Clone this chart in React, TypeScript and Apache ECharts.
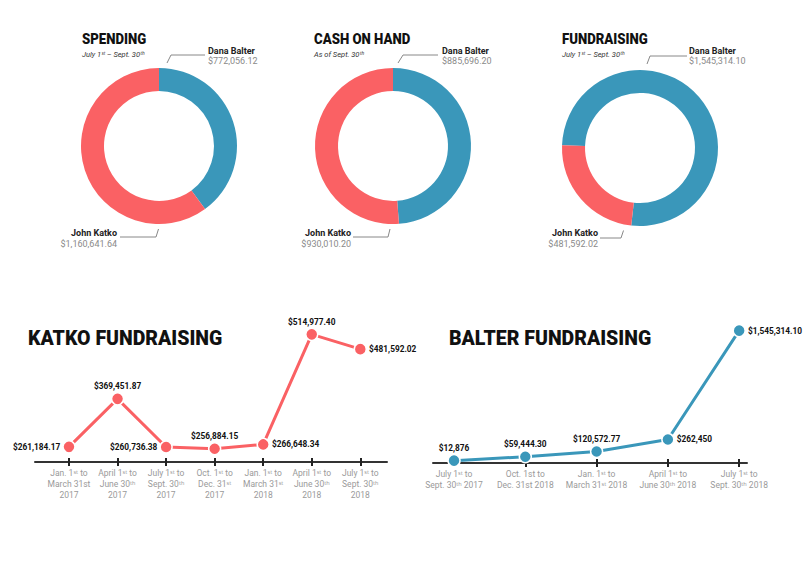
import React, { useEffect, useRef } from "react";
import * as echarts from "echarts";

// ---------- data ----------
const pieTitles = ["SPENDING", "CASH ON HAND", "FUNDRAISING"];
const pieSubtitles = ["July 1ˢᵗ – Sept. 30ᵗʰ", "As of Sept. 30ᵗʰ", "July 1ˢᵗ – Sept. 30ᵗʰ"];
const candidates = ["Dana Balter", "John Katko"];
const balterTotals = [772056.12, 885696.2, 1545314.1];
const katkoTotals = [1160641.64, 930010.2, 481592.02];

const katkoPeriods = [
  "Jan. 1ˢᵗ to\nMarch 31st\n2017",
  "April 1ˢᵗ to\nJune 30ᵗʰ\n2017",
  "July 1ˢᵗ to\nSept. 30ᵗʰ\n2017",
  "Oct. 1ˢᵗ to\nDec. 31ˢᵗ\n2017",
  "Jan. 1ˢᵗ to\nMarch 31ˢᵗ\n2018",
  "April 1ˢᵗ to\nJune 30ᵗʰ\n2018",
  "July 1ˢᵗ to\nSept. 30ᵗʰ\n2018",
];
const katkoValues = [261184.17, 369451.87, 260736.38, 256884.15, 266648.34, 514977.4, 481592.02];

const balterPeriods = [
  "July 1ˢᵗ to\nSept. 30ᵗʰ 2017",
  "Oct. 1st to\nDec. 31st 2018",
  "Jan. 1ˢᵗ to\nMarch 31ˢᵗ 2018",
  "April 1ˢᵗ to\nJune 30ᵗʰ 2018",
  "July 1ˢᵗ to\nSept. 30ᵗʰ 2018",
];
const balterValues = [12876, 59444.3, 120572.77, 262450, 1545314.1];

// ---------- style ----------
const RED = "#fa6164";
const BLUE = "#3a97ba";
const FONT = "Roboto, 'Noto Sans', sans-serif";

const money = (v: number) =>
  "$" +
  (Number.isInteger(v)
    ? v.toLocaleString("en-US")
    : v.toLocaleString("en-US", { minimumFractionDigits: 2, maximumFractionDigits: 2 }));

const pieLayout = [
  {
    cx: 159, cy: 146, tx: 82, start: 90,
    b: { x: 208, line: [[167, 63], [171, 55], [205, 55]] },
    k: { x: 117, line: [[120, 237], [156, 237], [158.5, 229]] },
  },
  {
    cx: 393, cy: 146, tx: 314, start: 90,
    b: { x: 442, line: [[398, 63], [403, 55], [438, 55]] },
    k: { x: 351, line: [[353, 237], [388, 237], [390, 229]] },
  },
  {
    cx: 640, cy: 148, tx: 562, start: 178,
    b: { x: 689, line: [[647, 64], [650, 56], [687, 56]] },
    k: { x: 598, line: [[600, 238], [621, 238], [623.5, 230.5]] },
  },
];

const katkoPos = ["left", "top", "left", "top", "right", "top", "right"];
const balterPos = ["top", "top", "top", "right", "right"];

export default function App() {
  const ref = useRef<HTMLDivElement>(null);

  useEffect(() => {
    document.body.style.margin = "0";
    if (!ref.current) return;
    const chart = echarts.init(ref.current, undefined, { renderer: "svg" });

    const graphics: any[] = [];
    pieLayout.forEach((p, i) => {
      graphics.push({
        type: "text", x: p.tx, y: 39, scaleX: 0.88,
        style: { text: pieTitles[i], font: `900 15px ${FONT}`, fill: "#111", verticalAlign: "middle", align: "left" },
      });
      graphics.push({
        type: "text", x: p.tx, y: 54.5,
        style: { text: pieSubtitles[i], font: `italic 7.5px ${FONT}`, fill: "#333", verticalAlign: "middle", align: "left" },
      });
      // Balter annotation
      graphics.push({
        type: "polyline",
        shape: { points: p.b.line },
        style: { stroke: "#888", lineWidth: 1, fill: null },
      });
      graphics.push({
        type: "text", x: p.b.x, y: 50.5,
        style: { text: candidates[0], font: `bold 9px ${FONT}`, fill: "#222", verticalAlign: "middle", align: "left" },
      });
      graphics.push({
        type: "text", x: p.b.x, y: 61,
        style: { text: money(balterTotals[i]), font: `9px ${FONT}`, fill: "#8a8a8a", verticalAlign: "middle", align: "left" },
      });
      // Katko annotation
      graphics.push({
        type: "polyline",
        shape: { points: p.k.line },
        style: { stroke: "#888", lineWidth: 1, fill: null },
      });
      graphics.push({
        type: "text", x: p.k.x, y: 233,
        style: { text: candidates[1], font: `bold 9px ${FONT}`, fill: "#222", verticalAlign: "middle", align: "right" },
      });
      graphics.push({
        type: "text", x: p.k.x, y: 243.5,
        style: { text: money(katkoTotals[i]), font: `9px ${FONT}`, fill: "#8a8a8a", verticalAlign: "middle", align: "right" },
      });
    });
    graphics.push({
      type: "text", x: 28, y: 338.5,
      style: { text: "KATKO FUNDRAISING", font: `900 19.5px ${FONT}`, fill: "#111", verticalAlign: "middle", align: "left" },
    });
    graphics.push({
      type: "text", x: 449, y: 338.5,
      style: { text: "BALTER FUNDRAISING", font: `900 19.5px ${FONT}`, fill: "#111", verticalAlign: "middle", align: "left" },
    });

    const pieSeries = pieLayout.map((p, i) => ({
      type: "pie",
      center: [p.cx, p.cy],
      radius: [55, 78],
      startAngle: p.start,
      clockwise: true,
      silent: true,
      label: { show: false },
      labelLine: { show: false },
      itemStyle: { borderWidth: 0 },
      data: [
        { name: candidates[0], value: balterTotals[i], itemStyle: { color: BLUE } },
        { name: candidates[1], value: katkoTotals[i], itemStyle: { color: RED } },
      ],
    }));

    const xAxisBase = (grid: number, min: number, max: number, labels: string[]) => {
      const ticks = labels.map((_, i) => i);
      return [
        {
          type: "value", gridIndex: grid, min, max, position: "bottom",
          axisLine: { show: true, onZero: false, lineStyle: { color: "#333", width: 2 } },
          axisTick: { show: true, customValues: ticks, length: 4, lineStyle: { color: "#222", width: 2 } },
          axisLabel: {
            show: true, customValues: ticks, margin: 6,
            formatter: (v: number) => labels[Math.round(v)],
            color: "#9a9a9a", fontSize: 8.5, lineHeight: 10.8, fontFamily: FONT, align: "center",
          },
          splitLine: { show: false },
        },
        {
          type: "value", gridIndex: grid, min, max, position: "bottom",
          axisLine: { show: false, onZero: false },
          axisTick: { show: true, inside: true, customValues: ticks, length: 4, lineStyle: { color: "#222", width: 2 } },
          axisLabel: { show: false },
          splitLine: { show: false },
        },
      ];
    };

    const lineSeries = (
      values: number[], pos: string[], color: string, xi: number, yi: number
    ) => ({
      type: "line",
      xAxisIndex: xi,
      yAxisIndex: yi,
      silent: true,
      symbol: "circle",
      symbolSize: 12,
      lineStyle: { color, width: 3 },
      itemStyle: { color, borderColor: "#fff", borderWidth: 1.5 },
      label: {
        show: true,
        formatter: (p: any) => money(p.value[1]),
        fontFamily: FONT, fontSize: 8.3, fontWeight: "bold", color: "#111", distance: 2,
      },
      data: values.map((v, i) => ({ value: [i, v], label: { position: pos[i] } })),
      z: 3,
    });

    chart.setOption({
      animation: false,
      backgroundColor: "#fff",
      grid: [
        { left: 35, width: 352, top: 329, height: 133 },
        { left: 433, width: 314, top: 326, height: 137 },
      ],
      xAxis: [
        ...xAxisBase(0, -0.7, 6.55, katkoPeriods),
        ...xAxisBase(1, -0.295, 4.11, balterPeriods),
      ],
      yAxis: [
        { type: "value", gridIndex: 0, min: 227000, max: 527000, show: false },
        { type: "value", gridIndex: 1, min: -15000, max: 1600000, show: false },
      ],
      series: [
        ...pieSeries,
        lineSeries(katkoValues, katkoPos, RED, 0, 0),
        lineSeries(balterValues, balterPos, BLUE, 2, 1),
      ],
      graphic: graphics,
    });

    return () => chart.dispose();
  }, []);

  return <div ref={ref} style={{ width: 810, height: 563 }} />;
}
